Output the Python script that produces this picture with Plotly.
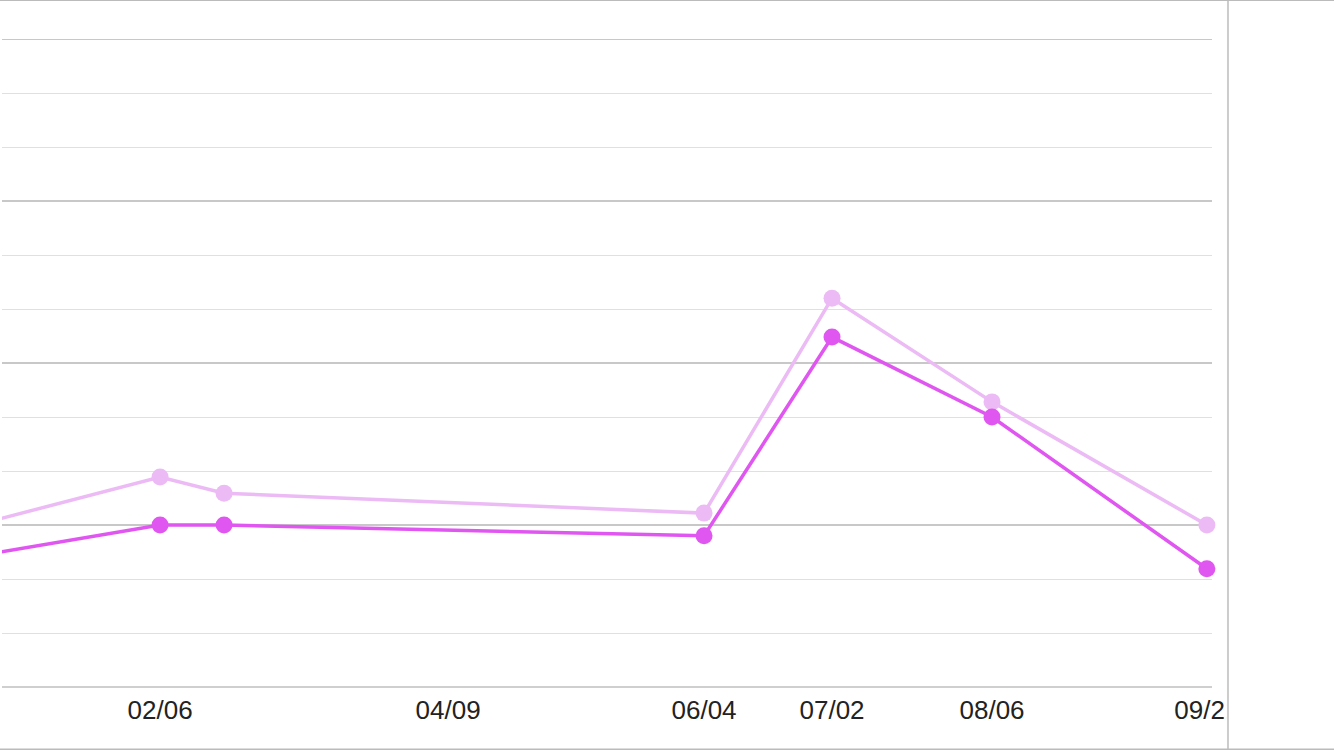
import plotly.graph_objects as go

# dates of the two series (2024, leap year); the first point sits left of the visible range
dates = ["2023-12-26", "2024-02-06", "2024-02-20", "2024-06-04",
         "2024-07-02", "2024-08-06", "2024-09-22"]
series_dark = [2.40, 3.00, 3.00, 2.80, 6.48, 5.00, 2.19]
series_light = [2.96, 3.89, 3.59, 3.22, 7.20, 5.28, 3.00]

tick_dates = ["2024-02-06", "2024-04-09", "2024-06-04",
              "2024-07-02", "2024-08-06", "2024-09-22"]
tick_labels = ["02/06", "04/09", "06/04", "07/02", "08/06", "09/22"]

DARK = "#e056f0"
LIGHT = "#ecbaf5"

fig = go.Figure()

fig.add_trace(go.Scatter(
    x=dates, y=series_light,
    mode="lines+markers",
    line=dict(color=LIGHT, width=3.5),
    marker=dict(color=LIGHT, size=17),
    cliponaxis=False,
))
fig.add_trace(go.Scatter(
    x=dates, y=series_dark,
    mode="lines+markers",
    line=dict(color=DARK, width=3.5),
    marker=dict(color=DARK, size=17),
    cliponaxis=False,
))

fig.update_xaxes(
    type="date",
    range=["2024-01-02 10:00", "2024-09-23 03:00"],
    tickvals=tick_dates,
    ticktext=tick_labels,
    showgrid=False,
    zeroline=False,
    showline=False,
    ticks="",
    ticklabelstandoff=5,
    tickfont=dict(family="Liberation Sans, Arial", size=26, color="#222222"),
)
fig.update_yaxes(
    range=[0, 12],
    dtick=3,
    showgrid=True,
    gridcolor="#c8c8c8",
    gridwidth=2,
    minor=dict(dtick=1, showgrid=True, gridcolor="#e0e0e0", gridwidth=1),
    zeroline=True,
    zerolinecolor="#cfcfcf",
    zerolinewidth=2,
    showticklabels=False,
    ticks="",
)

# top gridline (plotly skips the one sitting on the range edge)
fig.add_shape(type="line", xref="paper", yref="y",
              x0=0, x1=1, y0=12, y1=12,
              line=dict(color="#c8c8c8", width=2), layer="below")

# page frame: mask on the right that clips the last label, plus border lines
fig.add_shape(type="rect", xref="paper", yref="paper",
              x0=1.0116, x1=1.11, y0=-0.2, y1=1.2,
              fillcolor="white", line=dict(width=0), layer="above")
fig.add_shape(type="line", xref="paper", yref="paper",
              x0=1.0132, x1=1.0132, y0=-0.2, y1=1.2,
              line=dict(color="#cccccc", width=2), layer="above")
fig.add_shape(type="line", xref="paper", yref="paper",
              x0=-0.01, x1=1.11, y0=1.0602, y1=1.0602,
              line=dict(color="#bbbbbb", width=2), layer="above")
fig.add_shape(type="line", xref="paper", yref="paper",
              x0=-0.01, x1=1.11, y0=-0.0965, y1=-0.0965,
              line=dict(color="#bbbbbb", width=2), layer="above")

fig.update_layout(
    width=1334, height=750,
    margin=dict(l=2, r=122, t=39, b=63),
    paper_bgcolor="white",
    plot_bgcolor="white",
    showlegend=False,
)

# drop the default 8px page margin so the figure sits at the window origin
fig.write_html("out.html", config={"displayModeBar": False},
               post_script="document.body.style.margin='0';")
